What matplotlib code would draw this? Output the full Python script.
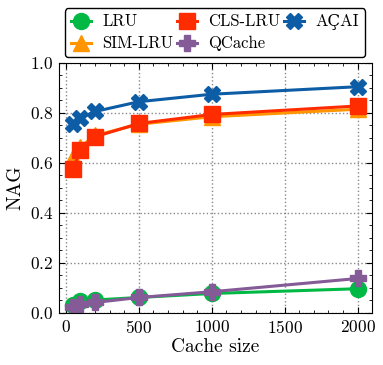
import matplotlib
matplotlib.use("Agg")
import matplotlib.pyplot as plt

cache_sizes = [50, 100, 200, 500, 1000, 2000]
lru = [0.033, 0.046, 0.052, 0.062, 0.078, 0.097]
sim_lru = [0.625, 0.665, 0.71, 0.755, 0.785, 0.815]
cls_lru = [0.577, 0.653, 0.705, 0.758, 0.794, 0.828]
qcache = [0.025, 0.036, 0.042, 0.062, 0.085, 0.138]
acai = [0.756, 0.78, 0.806, 0.845, 0.875, 0.905]

series = [
    ("LRU", lru, "#00B945", "o"),
    ("SIM-LRU", sim_lru, "#FF9500", "^"),
    ("CLS-LRU", cls_lru, "#FF2C00", "s"),
    ("QCache", qcache, "#845B97", "P"),
    ("AÇAI", acai, "#0C5DA5", "X"),
]

plt.rcParams['font.family'] = ['cmr10', 'DejaVu Serif']
plt.rcParams['mathtext.fontset'] = 'cm'
plt.rcParams['axes.formatter.use_mathtext'] = True
plt.rcParams['axes.unicode_minus'] = False

fig = plt.figure(figsize=(3.83, 3.65), dpi=100)
ax = fig.add_axes([0.154, 0.1425, 0.817, 0.685])

for name, vals, col, mk in series:
    ax.plot(cache_sizes, vals, color=col, marker=mk, markersize=11.5, linewidth=2.2, label=name)

ax.set_ylim(0, 1.0)
ax.set_xlabel("Cache size", fontsize=14, labelpad=2)
ax.set_ylabel("NAG", fontsize=14, labelpad=4)
ax.tick_params(axis='both', which='both', direction='in', top=True, right=True, labelsize=12.5)
ax.tick_params(which='major', length=4, width=0.8, pad=4)
ax.tick_params(which='minor', length=2, width=0.6)
ax.minorticks_on()
ax.grid(True, which='major', linestyle=':', color='#888888', linewidth=1.0)
ax.set_axisbelow(True)

leg = fig.legend(loc='upper center', bbox_to_anchor=(0.561, 1.0), ncol=3, fontsize=12,
                 frameon=True, fancybox=True, edgecolor='black', framealpha=1,
                 handlelength=1.2, columnspacing=0.2, handletextpad=0.7, borderpad=0.35,
                 labelspacing=0.4)
leg.get_frame().set_linewidth(1.0)

fig.savefig("out.png", dpi=100)
